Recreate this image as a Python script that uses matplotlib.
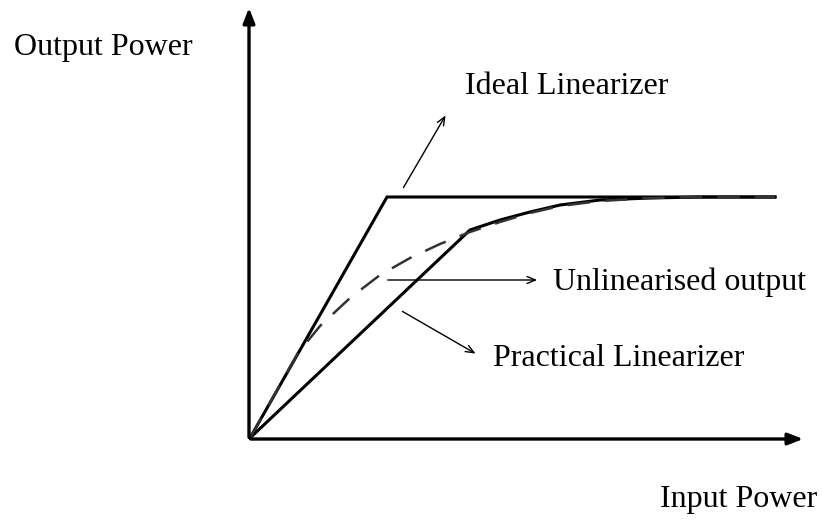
import matplotlib
matplotlib.use("Agg")
from matplotlib import pyplot as plt

# curve points (origin at the corner of the axes)
ideal_x = [0, 137, 525]
ideal_y = [0, 241, 241]

practical_x = [0, 220, 250, 280, 310, 350, 400, 450, 525]
practical_y = [0, 208, 218, 226, 233, 238, 240, 241, 241]

unlin_x = [0, 48, 70, 100, 130, 160, 190, 205, 220, 250, 280, 310, 350, 400, 450, 525]
unlin_y = [0, 85, 112, 140, 163, 180, 194, 200, 206, 216, 225, 232, 237, 240, 241, 241]

plt.rcParams['font.family'] = ['Liberation Serif', 'DejaVu Serif']

fig = plt.figure(figsize=(8.22, 5.23), dpi=100)
ax = fig.add_axes([0, 0, 1, 1])
ax.set_xlim(-250, 572)
ax.set_ylim(-85, 438)
ax.axis('off')

# axes arrows
ax.annotate('', xy=(556, -1), xytext=(-2, -1),
            arrowprops=dict(arrowstyle='-|>,head_length=0.9,head_width=0.35', lw=2.4, color='black'))
ax.annotate('', xy=(-1, 433), xytext=(-1, -2),
            arrowprops=dict(arrowstyle='-|>,head_length=0.9,head_width=0.35', lw=2.4, color='black'))

ax.plot(ideal_x, ideal_y, color='black', lw=2.2, solid_joinstyle='miter')
ax.plot(practical_x, practical_y, color='black', lw=2.2)
ax.plot(unlin_x, unlin_y, color='#333333', lw=1.8, dashes=(9, 6))

arrow_kw = dict(arrowstyle='->,head_length=0.6,head_width=0.25', lw=1.0, color='black')
ax.annotate('', xy=(197, 325), xytext=(152, 248), arrowprops=arrow_kw)
ax.annotate('', xy=(290, 158), xytext=(135, 158), arrowprops=arrow_kw)
ax.annotate('', xy=(228, 83), xytext=(150, 128), arrowprops=arrow_kw)

fs = 23
ax.text(215, 351, 'Ideal Linearizer', fontsize=fs, va='center', ha='left')
ax.text(303, 156, 'Unlinearised output', fontsize=fs, va='center', ha='left')
ax.text(243, 80, 'Practical Linearizer', fontsize=fs, va='center', ha='left')
ax.text(-236, 391, 'Output Power', fontsize=fs, va='center', ha='left')
ax.text(410, -61, 'Input Power', fontsize=fs, va='center', ha='left')

fig.savefig('out.png', dpi=100)
